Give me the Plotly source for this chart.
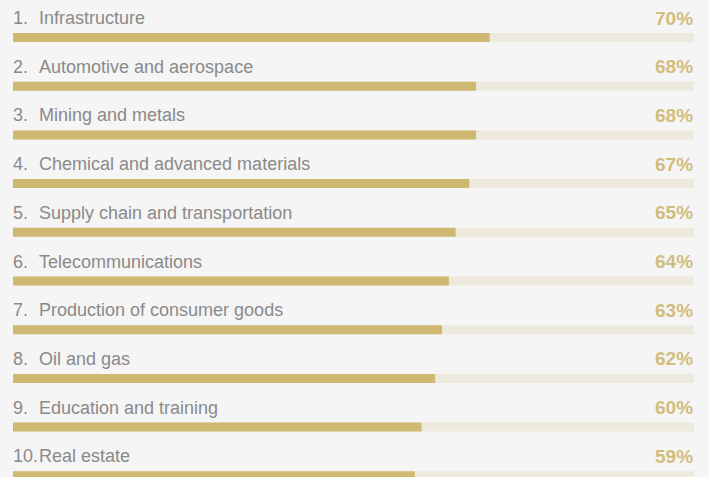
import plotly.graph_objects as go

categories = ["Infrastructure", "Automotive and aerospace", "Mining and metals",
              "Chemical and advanced materials", "Supply chain and transportation",
              "Telecommunications", "Production of consumer goods", "Oil and gas",
              "Education and training", "Real estate"]
values = [70, 68, 68, 67, 65, 64, 63, 62, 60, 59]
ranks = ["1.", "2.", "3.", "4.", "5.", "6.", "7.", "8.", "9.", "10."]

bg = "#f5f5f5"
fill_col = "#cfb972"
track_col = "#ede9dc"
label_col = "#8a8a8a"
pct_col = "#d1bd7c"

W, H = 709, 477
row_px = 48.7
units = H / row_px
top = 37.5 / row_px
pos = list(range(len(categories)))

fig = go.Figure()
# background track
fig.add_trace(go.Bar(y=pos, x=[100] * len(pos), orientation="h",
                     marker=dict(color=track_col, line=dict(width=0)),
                     width=9 / row_px, hoverinfo="skip"))
# value fill
fig.add_trace(go.Bar(y=pos, x=values, orientation="h",
                     marker=dict(color=fill_col, line=dict(width=0)),
                     width=9 / row_px, hoverinfo="skip"))

font = "Liberation Sans, Arial, Helvetica, sans-serif"
for i, (r, c, v) in enumerate(zip(ranks, categories, values)):
    ty = i - 19.5 / row_px
    fig.add_annotation(x=0, xref="paper", y=ty, yref="y", text=r, showarrow=False,
                       xanchor="left", yanchor="middle", xshift=-2,
                       font=dict(family=font, size=18, color=label_col))
    fig.add_annotation(x=0, xref="paper", y=ty, yref="y", text=c, showarrow=False,
                       xanchor="left", yanchor="middle", xshift=24,
                       font=dict(family=font, size=18, color=label_col))
    fig.add_annotation(x=1, xref="paper", y=ty, yref="y", text="<b>%d%%</b>" % v,
                       showarrow=False, xanchor="right", yanchor="middle", xshift=1,
                       font=dict(family=font, size=19, color=pct_col))

fig.update_layout(
    width=W, height=H, barmode="overlay", showlegend=False,
    paper_bgcolor=bg, plot_bgcolor=bg,
    margin=dict(l=13, r=15, t=0, b=0),
    xaxis=dict(range=[0, 100], visible=False, fixedrange=True),
    yaxis=dict(range=[units - top, -top], visible=False, fixedrange=True),
)

fig.write_html("out.html", config={"displayModeBar": False},
               post_script="document.body.style.margin='0';")
